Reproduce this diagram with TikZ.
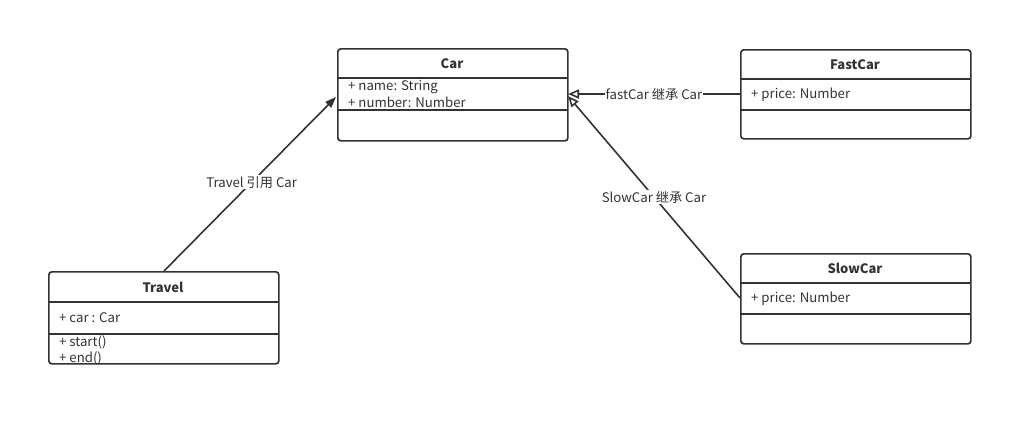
\documentclass[tikz,border=0pt]{standalone}
\usepackage{fontspec}
\setmainfont{Noto Sans CJK SC}
\usetikzlibrary{arrows.meta}
\definecolor{ink}{HTML}{333333}
\begin{document}
\begin{tikzpicture}[x=1pt,y=-1pt,
  box/.style={draw=ink,line width=1.7pt,rounded corners=3pt},
  sep/.style={draw=ink,line width=1.7pt},
  title/.style={font=\fontsize{13}{15}\selectfont\bfseries,text=ink,anchor=center,inner sep=0pt},
  attr/.style={font=\fontsize{13.2}{15}\selectfont,text=ink,anchor=west,inner sep=0pt},
  conn/.style={draw=ink,line width=1.6pt},
  lbl/.style={font=\fontsize{13.2}{15}\selectfont,text=ink,fill=white,inner sep=1pt},
  inh/.style={-{Triangle[open,length=11pt,width=9pt]}},
  refa/.style={-{Triangle[length=11pt,width=8pt]}}
]
\useasboundingbox (0,0) rectangle (1032,426);
% Car
\node[box,minimum width=230pt,minimum height=92pt,anchor=north west,inner sep=0pt] (car) at (337,48) {};
\draw[sep] (337,78) -- (567,78);
\draw[sep] (337,110) -- (567,110);
\node[title] (cart) at (452,63.5) {Car};
\node[attr] (cara1) at (348,87) {+ name: String};
\node[attr] (cara2) at (348,102.5) {+ number: Number};
% FastCar
\node[box,minimum width=230pt,minimum height=89pt,anchor=north west,inner sep=0pt] (fast) at (740,49) {};
\draw[sep] (740,79) -- (970,79);
\draw[sep] (740,110) -- (970,110);
\node[title] (fastt) at (855,64.5) {FastCar};
\node[attr] (fasta) at (751,95) {+ price: Number};
% SlowCar
\node[box,minimum width=230pt,minimum height=90pt,anchor=north west,inner sep=0pt] (slow) at (740,253) {};
\draw[sep] (740,283) -- (970,283);
\draw[sep] (740,314) -- (970,314);
\node[title] (slowt) at (855,268.5) {SlowCar};
\node[attr] (slowa) at (751,299) {+ price: Number};
% Travel
\node[box,minimum width=230pt,minimum height=92pt,anchor=north west,inner sep=0pt] (trav) at (48,271) {};
\draw[sep] (48,302) -- (278,302);
\draw[sep] (48,334) -- (278,334);
\node[title] (travt) at (163,287.5) {Travel};
\node[attr] (trava) at (59,318) {+ car : Car};
\node[attr] (travm1) at (59,342.5) {+ start()};
\node[attr] (travm2) at (59,358) {+ end()};
% connectors
\coordinate (carL) at (336,97);
\coordinate (carR1) at (568,94);
\coordinate (carR2) at (568,96);
\coordinate (travTop) at (164,271);
\coordinate (fastL) at (740,94);
\coordinate (slowL) at (740,298);
\draw[conn,refa] (travTop) -- node[lbl,pos=0.51] (l1) {Travel 引用 Car} (carL);
\draw[conn,inh] (fastL) -- node[lbl,pos=0.5] (l2) {fastCar 继承 Car} (carR1);
\draw[conn,inh] (slowL) -- node[lbl,pos=0.5] (l3) {SlowCar 继承 Car} (carR2);
\end{tikzpicture}
\end{document}
